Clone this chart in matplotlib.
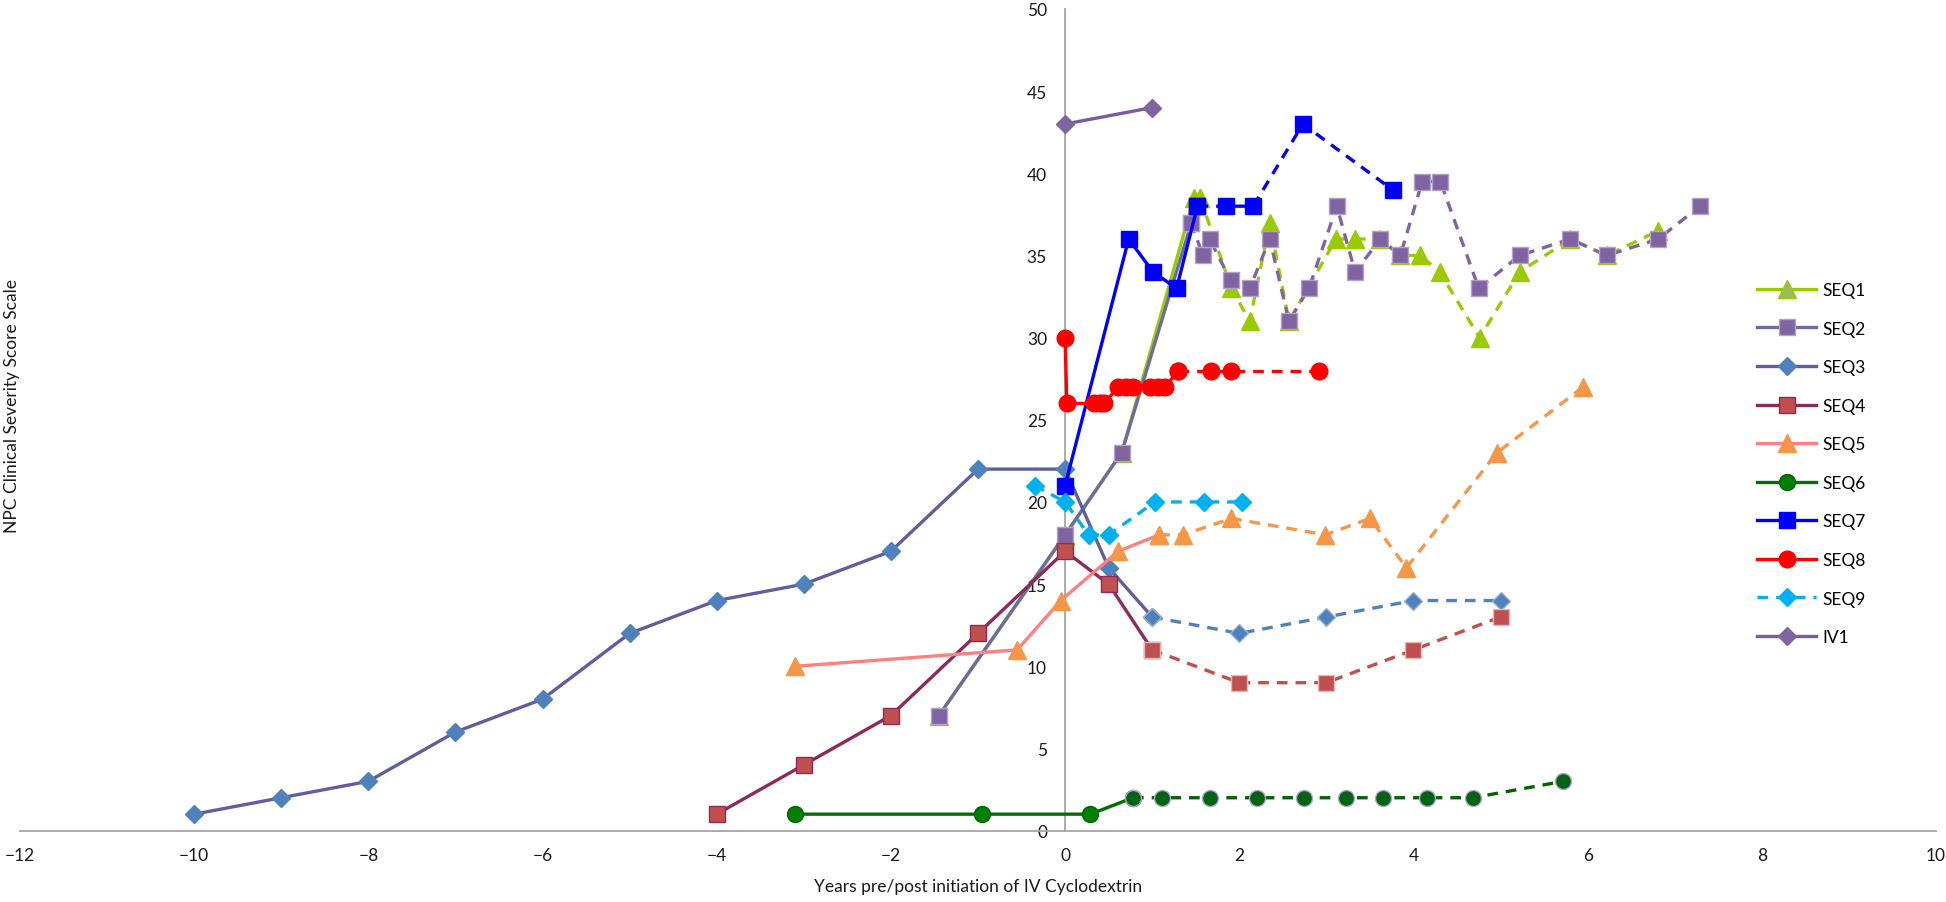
import numpy as np
import matplotlib.pyplot as plt
from matplotlib.lines import Line2D

plt.rcParams['font.family'] = ['Lato', 'DejaVu Sans']

# values (years, score)
seq1_x = [-1.45, 0, 0.65, 1.48, 1.55, 1.91, 2.12, 2.35, 2.57, 3.11, 3.33, 3.62, 3.85, 4.08, 4.30, 4.76, 5.22, 5.80, 6.22, 6.81]
seq1_y = [7, 18, 23, 38.5, 38.5, 33, 31, 37, 31, 36, 36, 36, 35, 35, 34, 30, 34, 36, 35, 36.5]

seq2_x = [-1.45, 0, 0.65, 1.45, 1.58, 1.66, 1.90, 2.12, 2.35, 2.57, 2.80, 3.12, 3.33, 3.62, 3.85, 4.10, 4.31, 4.75, 5.22, 5.80, 6.22, 6.81, 7.29]
seq2_y = [7, 18, 23, 37, 35, 36, 33.5, 33, 36, 31, 33, 38, 34, 36, 35, 39.5, 39.5, 33, 35, 36, 35, 36, 38]

seq3_x = [-10, -9, -8, -7, -6, -5, -4, -3, -2, -1, 0, 0.5, 1, 2, 3, 4, 5]
seq3_y = [1, 2, 3, 6, 8, 12, 14, 15, 17, 22, 22, 16, 13, 12, 13, 14, 14]

seq4_x = [-4, -3, -2, -1, 0, 0.5, 1, 2, 3, 4, 5]
seq4_y = [1, 4, 7, 12, 17, 15, 11, 9, 9, 11, 13]

seq5_x = [-3.1, -0.55, -0.05, 0.61, 1.08, 1.35, 1.91, 2.99, 3.50, 3.92, 4.96, 5.95]
seq5_y = [10, 11, 14, 17, 18, 18, 19, 18, 19, 16, 23, 27]

seq6_x = [-3.1, -0.95, 0.29, 0.78, 1.11, 1.66, 2.20, 2.74, 3.23, 3.65, 4.15, 4.68, 5.72]
seq6_y = [1, 1, 1, 2, 2, 2, 2, 2, 2, 2, 2, 2, 3]

seq7_x = [0, 0.73, 1.01, 1.28, 1.52, 1.85, 2.16, 2.73, 3.76]
seq7_y = [21, 36, 34, 33, 38, 38, 38, 43, 39]

seq8_x = [0, 0.02, 0.33, 0.40, 0.45, 0.61, 0.70, 0.78, 0.98, 1.07, 1.15, 1.30, 1.68, 1.91, 2.91]
seq8_y = [30, 26, 26, 26, 26, 27, 27, 27, 27, 27, 27, 28, 28, 28, 28]

seq9_x = [-0.35, 0, 0.27, 0.50, 1.03, 1.59, 2.03]
seq9_y = [21, 20, 18, 18, 20, 20, 20]

iv1_x = [0, 1]
iv1_y = [43, 44]

labels = ['SEQ1', 'SEQ2', 'SEQ3', 'SEQ4', 'SEQ5', 'SEQ6', 'SEQ7', 'SEQ8', 'SEQ9', 'IV1']

DASH = (0, (3.2, 2.4))
LW = 2.4


def draw(ax, x, y, k, color, marker, ms, mfc, mec, dcolor=None, dmfc=None, dmec=None):
    # solid up to index k, dashed afterwards
    x = np.asarray(x)
    y = np.asarray(y)
    dcolor = dcolor or color
    dmfc = dmfc or mfc
    dmec = dmec or mec
    if k > 0:
        ax.plot(x[:k + 1], y[:k + 1], color=color, lw=LW, marker=marker, ms=ms,
                mfc=mfc, mec=mec, mew=1, zorder=3)
    if k < len(x) - 1:
        ax.plot(x[k:], y[k:], color=dcolor, lw=LW, ls=DASH, marker=marker, ms=ms,
                mfc=dmfc, mec=dmec, mew=1, zorder=3)


fig = plt.figure(figsize=(19.46, 9.03), dpi=100)
ax = fig.add_axes([20 / 1946, 71.4 / 903, 1916 / 1946, 821.6 / 903])

draw(ax, seq1_x, seq1_y, 4, '#99CC00', '^', 13, '#99CC00', '#99CC00')
draw(ax, seq2_x, seq2_y, 3, '#6B6BA3', 's', 12, '#8064A2', '#B3A2C7', dcolor='#8064A2')
draw(ax, seq3_x, seq3_y, 12, '#5F5F9F', 'D', 9.5, '#4F81BD', '#4F81BD', dcolor='#4F81BD', dmec='#95B3D7')
draw(ax, seq4_x, seq4_y, 6, '#8E2A5B', 's', 12, '#C0504D', '#8E2A5B', dcolor='#C0504D', dmec='#E6B9B8')
draw(ax, seq5_x, seq5_y, 4, '#FF8080', '^', 13, '#F79646', '#F79646', dcolor='#F79646')
draw(ax, seq6_x, seq6_y, 3, '#007000', 'o', 11.5, '#008000', '#006400', dcolor='#006400',
     dmfc='#006414', dmec='#B3A2C7')
draw(ax, seq7_x, seq7_y, 4, '#0000FF', 's', 12, '#0000FF', '#0000FF')
draw(ax, seq8_x, seq8_y, 11, '#FF0000', 'o', 12, '#FF0000', '#FF0000')
draw(ax, seq9_x, seq9_y, 0, '#00B0F0', 'D', 9.5, '#00B0F0', '#00B0F0')
draw(ax, iv1_x, iv1_y, 1, '#7A5C9E', 'D', 9.5, '#8064A2', '#8064A2')

ax.set_xlim(-12, 10)
ax.set_ylim(0, 50)
ax.set_xticks(range(-12, 11, 2))
ax.set_yticks(range(0, 51, 5))
ax.spines['left'].set_position(('data', 0))
ax.spines['top'].set_visible(False)
ax.spines['right'].set_visible(False)
for s in ('left', 'bottom'):
    ax.spines[s].set_color('#A6A6A6')
    ax.spines[s].set_linewidth(1.3)
ax.tick_params(axis='both', length=0, labelsize=12.5, colors='#1a1a1a')
ax.tick_params(axis='x', pad=12)
ax.tick_params(axis='y', pad=13)

fig.text(978 / 1946, 1 - 887 / 903, 'Years pre/post initiation of IV Cyclodextrin',
         ha='center', va='center', fontsize=12.5, color='#1a1a1a')
fig.text(12 / 1946, 0.55, 'NPC Clinical Severity Score Scale', rotation=90,
         ha='center', va='center', fontsize=12.5, color='#1a1a1a')

handles = [
    Line2D([], [], color='#99CC00', lw=LW, marker='^', ms=13, mfc='#9BBB59', mec='#99CC00'),
    Line2D([], [], color='#6B6BA3', lw=LW, marker='s', ms=12, mfc='#8064A2', mec='#B3A2C7'),
    Line2D([], [], color='#5F5F9F', lw=LW, marker='D', ms=9.5, mfc='#4F81BD', mec='#4F81BD'),
    Line2D([], [], color='#8E2A5B', lw=LW, marker='s', ms=12, mfc='#C0504D', mec='#8E2A5B'),
    Line2D([], [], color='#FF8080', lw=LW, marker='^', ms=13, mfc='#F79646', mec='#F79646'),
    Line2D([], [], color='#007000', lw=LW, marker='o', ms=11.5, mfc='#008000', mec='#006400'),
    Line2D([], [], color='#0000FF', lw=LW, marker='s', ms=12, mfc='#0000FF', mec='#0000FF'),
    Line2D([], [], color='#FF0000', lw=LW, marker='o', ms=12, mfc='#FF0000', mec='#FF0000'),
    Line2D([], [], color='#00B0F0', lw=LW, ls=DASH, marker='D', ms=9.5, mfc='#00B0F0', mec='#00B0F0'),
    Line2D([], [], color='#7A5C9E', lw=LW, marker='D', ms=9.5, mfc='#8064A2', mec='#8064A2'),
]
ax.legend(handles, labels, loc='upper left', bbox_to_anchor=(1757 / 1946, 1 - 283 / 903),
          bbox_transform=fig.transFigure, frameon=False, handlelength=3.4,
          handletextpad=0.35, labelspacing=1.3, fontsize=12.5, borderpad=0, borderaxespad=0)

fig.savefig('out.png', dpi=100)
